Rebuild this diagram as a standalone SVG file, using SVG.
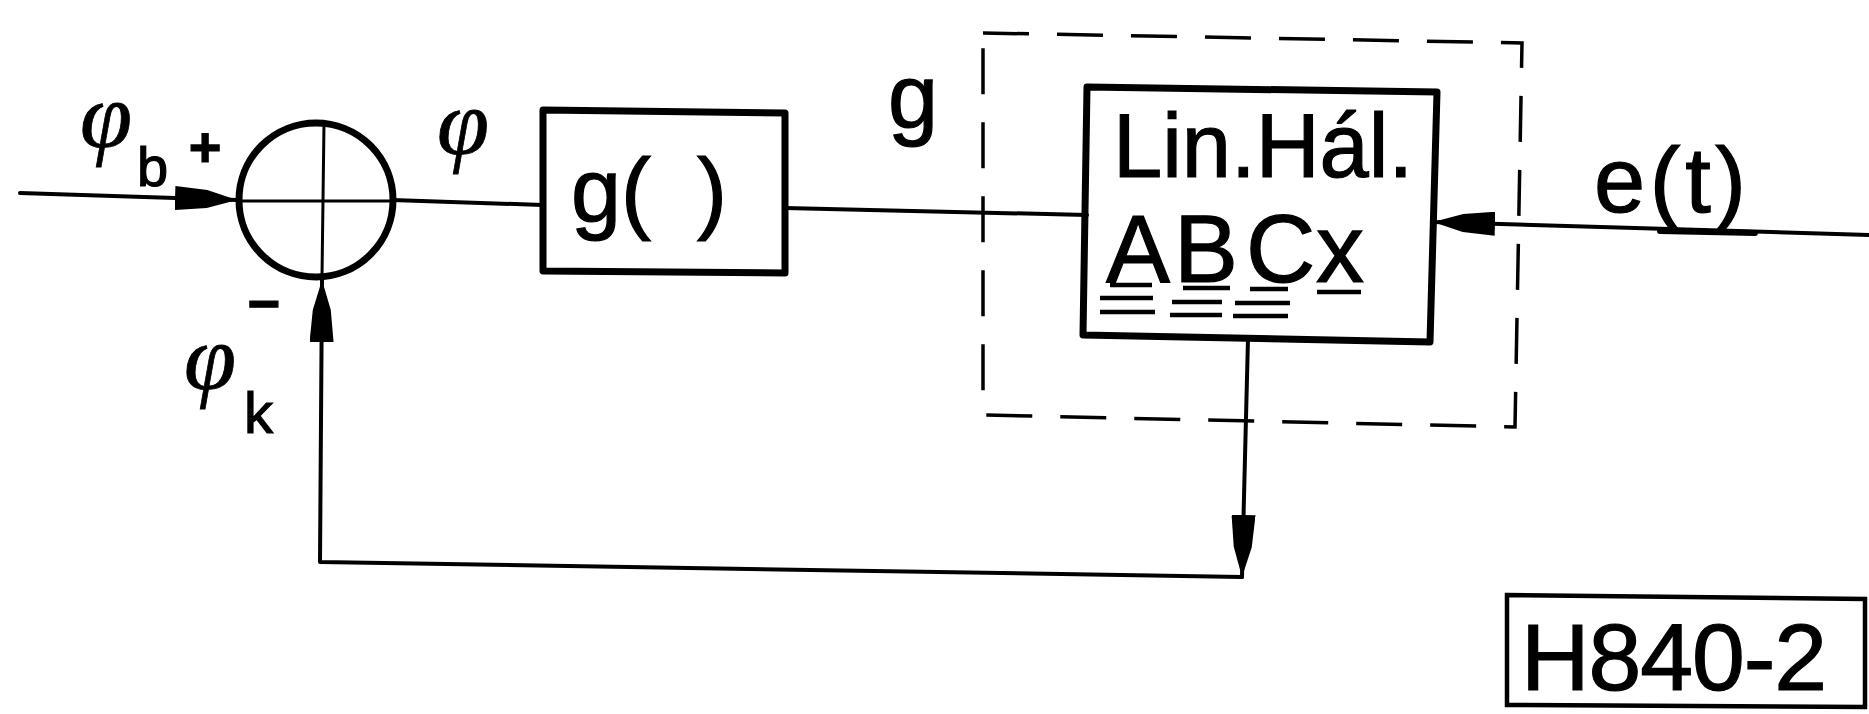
<svg xmlns="http://www.w3.org/2000/svg" width="1869" height="714" viewBox="0 0 1869 714">
  <style>
    .line { fill: none; stroke: #000; stroke-width: 4; stroke-linecap: round; stroke-linejoin: round; }
    .box { fill: none; stroke: #000; stroke-width: 7; stroke-linejoin: round; }
    .frame { fill: none; stroke: #000; stroke-width: 3.5; stroke-dasharray: 46 28; }
    .lbl { font-family: "Liberation Sans", "DejaVu Sans", sans-serif; fill: #000; stroke: #000; stroke-width: 1.2; }
    .greek { font-family: "Liberation Serif", "DejaVu Serif", serif; font-style: italic; fill: #000; stroke: #000; stroke-width: 0.8; }
    .sub { font-family: "Liberation Sans", "DejaVu Sans", sans-serif; font-style: normal; }
    .ul { stroke: #000; stroke-width: 4.5; stroke-linecap: butt; }
  </style>
  <defs>
    <marker id="arrow" viewBox="0 0 62 24" refX="62" refY="12" markerWidth="62" markerHeight="24" markerUnits="userSpaceOnUse" orient="auto">
      <path d="M0,0 L32,3 L62,12 L32,21 L0,24 Z" fill="#000"/>
    </marker>
  </defs>
  <rect width="1869" height="714" fill="#fff"/>

  <!-- connectors -->
  <g id="connectors">
    <path class="line" d="M20,193 L237,200" marker-end="url(#arrow)"/>
    <path class="line" d="M392,200 L543,205"/>
    <path class="line" d="M785,208 L1087,215"/>
    <path class="line" d="M1869,235 L1433,222" marker-end="url(#arrow)"/>
    <path class="line" d="M1660,231 L1755,233" style="stroke-width:6"/>
    <path class="line" d="M1248,338 L1242,577" marker-end="url(#arrow)"/>
    <path class="line" d="M1242,577 L320,562 L322,280" marker-end="url(#arrow)"/>
  </g>

  <!-- summing junction -->
  <g id="sum">
    <circle cx="316" cy="200" r="77" fill="none" stroke="#000" stroke-width="7"/>
    <line class="line" x1="239" y1="201" x2="393" y2="201" style="stroke-width:3"/>
    <line class="line" x1="324" y1="123" x2="322" y2="277" style="stroke-width:3"/>
    <text class="lbl" x="205" y="166" font-size="56" font-weight="bold" text-anchor="middle">+</text>
    <text class="lbl" x="264" y="323" font-size="56" font-weight="bold" text-anchor="middle">−</text>
  </g>

  <!-- input / feedback labels -->
  <g id="label-phib">
    <text class="greek" x="80" y="147" font-size="94">φ</text>
    <text class="lbl sub" x="137" y="186" font-size="56">b</text>
  </g>
  <g id="label-phik">
    <text class="greek" x="184" y="389" font-size="94">φ</text>
    <text class="lbl sub" x="244" y="433" font-size="58">k</text>
  </g>
  <g id="label-phi">
    <text class="greek" x="437" y="154" font-size="94">φ</text>
  </g>

  <!-- nonlinearity block -->
  <g id="block-g">
    <path class="box" d="M543,110 L785,113 L785,273 L543,271 Z"/>
    <text class="lbl" font-size="90" y="222"><tspan x="571">g(</tspan> <tspan x="697">)</tspan></text>
  </g>
  <g id="label-g">
    <text class="lbl" x="888" y="128" font-size="90">g</text>
  </g>

  <!-- dashed boundary of linear part -->
  <g id="frame">
    <path class="frame" d="M983,33 L1522,43 L1515,427 L983,415 Z"/>
  </g>

  <!-- linear system block -->
  <g id="block-lin">
    <path class="box" d="M1087,87 L1437,92 L1430,342 L1083,335 Z"/>
    <text class="lbl" x="1113" y="177" font-size="90" textLength="300" lengthAdjust="spacingAndGlyphs">Lin.Hál.</text>
    <text class="lbl" y="282" font-size="96"><tspan x="1106">A</tspan><tspan x="1174">B</tspan><tspan x="1246">C</tspan><tspan x="1316">x</tspan></text>
    <!-- vector / matrix underlines -->
    <line class="ul" x1="1110" y1="285" x2="1152" y2="285"/>
    <line class="ul" x1="1100" y1="298" x2="1153" y2="298"/>
    <line class="ul" x1="1100" y1="312" x2="1155" y2="312"/>
    <line class="ul" x1="1183" y1="288" x2="1230" y2="288"/>
    <line class="ul" x1="1172" y1="302" x2="1222" y2="302"/>
    <line class="ul" x1="1170" y1="315" x2="1222" y2="315"/>
    <line class="ul" x1="1250" y1="289" x2="1288" y2="289"/>
    <line class="ul" x1="1235" y1="303" x2="1290" y2="303"/>
    <line class="ul" x1="1233" y1="316" x2="1288" y2="316"/>
    <line class="ul" x1="1317" y1="292" x2="1361" y2="292"/>
  </g>

  <!-- output label -->
  <g id="label-e">
    <text class="lbl" x="1594" y="212" font-size="92" textLength="152" lengthAdjust="spacing">e(t)</text>
  </g>

  <!-- drawing number -->
  <g id="title">
    <path d="M1507,595 L1865,599 L1865,707 L1507,705 Z" fill="none" stroke="#000" stroke-width="4.5"/>
    <text class="lbl" x="1521" y="690" font-size="95" textLength="306" lengthAdjust="spacing">H840-2</text>
  </g>
</svg>
